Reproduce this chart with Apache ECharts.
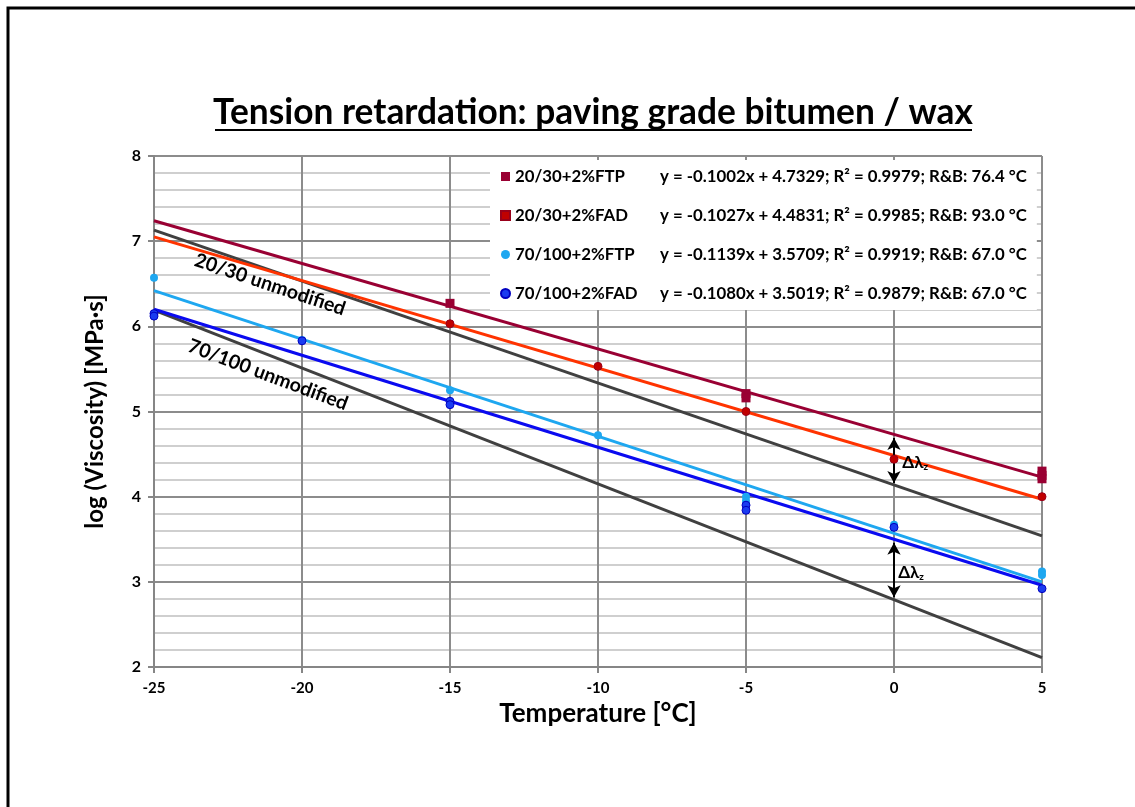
<!DOCTYPE html>
<html>
<head>
<meta charset="utf-8">
<script src="https://cdn.jsdelivr.net/npm/echarts@6/dist/echarts.min.js"></script>
<style>
  html, body { margin: 0; padding: 0; background: #fff; }
  #chart { width: 1135px; height: 807px; }
</style>
</head>
<body>
<div id="chart"></div>
<script>
// measured points (°C, log viscosity)
var ftp2030 = [[-15, 6.27], [-5, 5.21], [-5, 5.16], [5, 4.30], [5, 4.25], [5, 4.21]]
var fad2030 = [[-15, 6.03], [-10, 5.53], [-5, 5.0], [0, 4.44], [5, 4.0]]
var ftp70100 = [[-25, 6.57], [-20, 5.84], [-15, 5.25], [-10, 4.72], [-5, 4.0], [-5, 3.95], [0, 3.67], [5, 3.12], [5, 3.08]]
var fad70100 = [[-25, 6.15], [-25, 6.12], [-20, 5.83], [-15, 5.12], [-15, 5.08], [-5, 3.90], [-5, 3.84], [0, 3.64], [5, 2.92]]

// trend lines, end points
var trendFtp2030 = [[-25, 7.24], [5, 4.23]]
var trendFad2030 = [[-25, 7.05], [5, 3.97]]
var trendFtp70100 = [[-25, 6.42], [5, 3.00]]
var trendFad70100 = [[-25, 6.20], [5, 2.96]]
var unmod2030 = [[-25, 7.13], [5, 3.54]]
var unmod70100 = [[-25, 6.19], [5, 2.11]]

// Δλz arrows
var arrowUpper = [[0, 4.69], [0, 4.16]]
var arrowLower = [[0, 3.46], [0, 2.82]]

var seriesNames = ['20/30+2%FTP', '20/30+2%FAD', '70/100+2%FTP', '70/100+2%FAD']
var equations = [
  'y = -0.1002x + 4.7329; R² = 0.9979; R&B: 76.4 °C',
  'y = -0.1027x + 4.4831; R² = 0.9985; R&B: 93.0 °C',
  'y = -0.1139x + 3.5709; R² = 0.9919; R&B: 67.0 °C',
  'y = -0.1080x + 3.5019; R² = 0.9879; R&B: 67.0 °C'
]

var FONT = 'Lato'
var chart = echarts.init(document.getElementById('chart'))

function trend(data, color, z) {
  return {
    type: 'line',
    data: data,
    showSymbol: false,
    silent: true,
    z: z,
    lineStyle: { color: color, width: 3 },
    emphasis: { disabled: true }
  }
}

function arrow(coords) {
  return [{ coord: coords[0] }, { coord: coords[1] }]
}

var deltaLabel = {
  show: true,
  position: 'inside',
  align: 'left',
  formatter: '{a|Δλ}{s|z}',
  rich: {
    a: { fontFamily: FONT, fontWeight: 'bold', fontSize: 17, color: '#000' },
    s: { fontFamily: FONT, fontWeight: 'bold', fontSize: 10, color: '#000', padding: [9, 0, 0, 0] }
  }
}

function bigLabel(text, rot) {
  return {
    show: true, position: 'inside', rotate: rot, formatter: text,
    fontFamily: FONT, fontWeight: 'bold', fontSize: 19.5, color: '#000'
  }
}

chart.setOption({
  animation: false,
  backgroundColor: '#fff',
  grid: { left: 154, right: 93, top: 156, bottom: 140 },
  graphic: [
    {
      type: 'rect',
      shape: { x: 8, y: 8, width: 1200, height: 900 },
      style: { fill: 'none', stroke: '#000', lineWidth: 3 },
      silent: true
    },
    {
      type: 'text',
      left: 213,
      top: 95,
      style: {
        text: 'Tension retardation: paving grade bitumen / wax',
        fontFamily: FONT,
        fontWeight: 'bold',
        fontSize: 35.3,
        fill: '#000'
      }
    },
    {
      type: 'line',
      shape: { x1: 215, y1: 130, x2: 972, y2: 130 },
      style: { stroke: '#000', lineWidth: 2 }
    }
  ],
  legend: {
    orient: 'vertical',
    left: 490,
    top: 160,
    padding: [8, 10, 8, 10],
    itemGap: 22,
    itemWidth: 9,
    itemHeight: 9,
    backgroundColor: '#fff',
    data: [
      { name: seriesNames[0], icon: 'rect' },
      { name: seriesNames[1], icon: 'rect' },
      { name: seriesNames[2], icon: 'circle' },
      { name: seriesNames[3], icon: 'circle' }
    ],
    formatter: function(name) {
      return '{n|' + name + '}{e|' + equations[seriesNames.indexOf(name)] + '}'
    },
    textStyle: {
      rich: {
        n: { fontFamily: FONT, fontWeight: 'bold', fontSize: 16.8, color: '#000', width: 145 },
        e: { fontFamily: FONT, fontWeight: 'bold', fontSize: 16.8, color: '#000' }
      }
    }
  },
  xAxis: {
    type: 'value',
    min: -25,
    max: 5,
    interval: 5,
    name: 'Temperature [°C]',
    nameLocation: 'middle',
    nameGap: 32,
    nameTextStyle: { fontFamily: FONT, fontWeight: 'bold', fontSize: 26, color: '#000' },
    axisLine: { show: true, onZero: false, lineStyle: { color: '#868686', width: 2 } },
    axisTick: { show: true, length: 6, lineStyle: { color: '#868686', width: 2 } },
    axisLabel: { fontFamily: FONT, fontWeight: 'bold', fontSize: 15, color: '#000', margin: 14 },
    splitLine: { show: true, lineStyle: { color: '#8c8c8c', width: 2 } }
  },
  yAxis: {
    type: 'value',
    min: 2,
    max: 8,
    interval: 1,
    name: 'log (Viscosity) [MPa·s]',
    nameLocation: 'middle',
    nameGap: 47,
    nameTextStyle: { fontFamily: FONT, fontWeight: 'bold', fontSize: 24, color: '#000' },
    axisLine: { show: true, onZero: false, lineStyle: { color: '#868686', width: 2 } },
    axisTick: { show: true, length: 6, lineStyle: { color: '#868686', width: 2 } },
    axisLabel: { fontFamily: FONT, fontWeight: 'bold', fontSize: 16, color: '#000', margin: 13 },
    splitLine: { show: true, lineStyle: { color: '#8c8c8c', width: 2 } },
    minorTick: { show: false, splitNumber: 5 },
    minorSplitLine: { show: true, lineStyle: { color: '#cfcfcf', width: 2 } }
  },
  series: [
    trend(unmod2030, '#404040', 2),
    trend(unmod70100, '#404040', 2),
    trend(trendFtp2030, '#990033', 3),
    trend(trendFad2030, '#ff3300', 3),
    trend(trendFtp70100, '#1ea7f0', 3),
    trend(trendFad70100, '#0a0af0', 3),
    {
      name: seriesNames[0],
      type: 'scatter',
      data: ftp2030,
      symbol: 'rect',
      symbolSize: 9,
      z: 5,
      itemStyle: { color: '#990033', opacity: 1 }
    },
    {
      name: seriesNames[1],
      type: 'scatter',
      data: fad2030,
      symbol: 'circle',
      symbolSize: 8,
      z: 5,
      itemStyle: { color: '#c00000', borderColor: '#99001a', borderWidth: 1, opacity: 1 }
    },
    {
      name: seriesNames[2],
      type: 'scatter',
      data: ftp70100,
      symbol: 'circle',
      symbolSize: 8,
      z: 5,
      itemStyle: { color: '#1ea7f0', opacity: 1 }
    },
    {
      name: seriesNames[3],
      type: 'scatter',
      data: fad70100,
      symbol: 'circle',
      symbolSize: 8,
      z: 6,
      itemStyle: { color: '#1a3cf0', borderColor: '#0000c0', borderWidth: 1, opacity: 1 }
    },
    {
      // annotations: arrows and labels
      type: 'scatter',
      data: [],
      silent: true,
      z: 7,
      markLine: {
        silent: true,
        symbol: ['arrow', 'arrow'],
        symbolSize: [10, 12],
        label: { show: false },
        lineStyle: { color: '#000', width: 2, type: 'solid' },
        data: [arrow(arrowUpper), arrow(arrowLower)]
      },
      markPoint: {
        silent: true,
        symbol: 'circle',
        symbolSize: 0,
        data: [
          { coord: [-21.08, 6.49], label: bigLabel('20/30 unmodified', -18.5) },
          { coord: [-21.15, 5.43], label: bigLabel('70/100 unmodified', -20.6) },
          { coord: [0.28, 4.40], label: deltaLabel },
          { coord: [0.14, 3.11], label: deltaLabel }
        ]
      }
    }
  ]
})
</script>
</body>
</html>
